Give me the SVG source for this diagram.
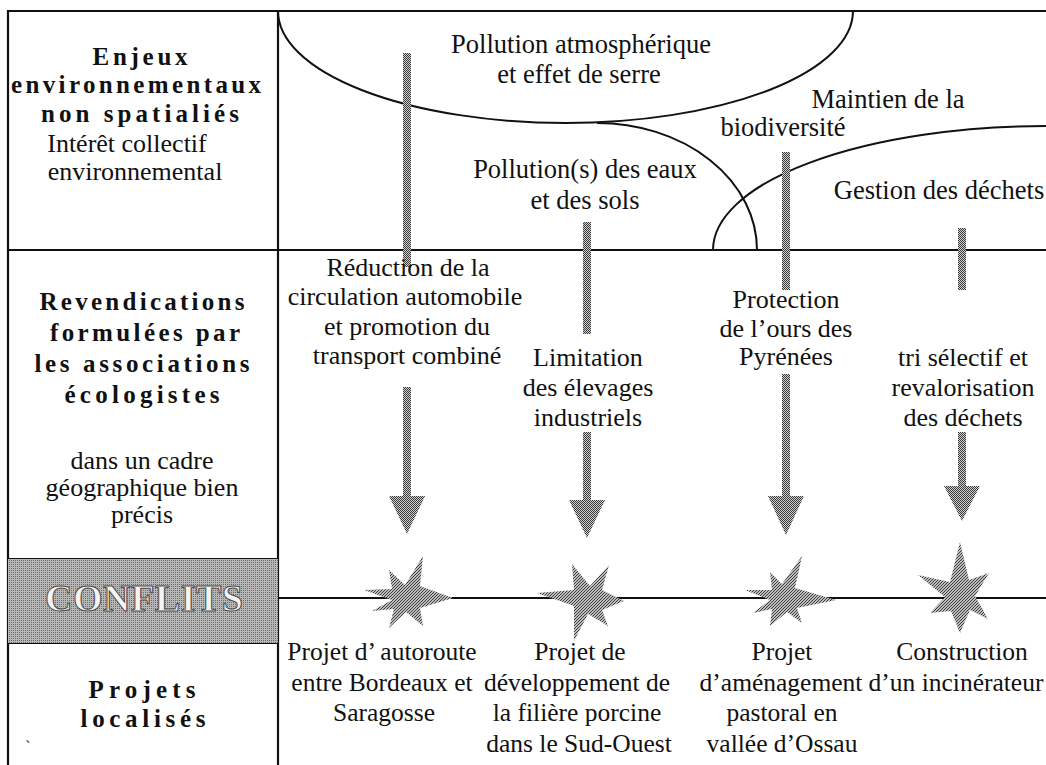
<svg xmlns="http://www.w3.org/2000/svg" width="1046" height="765" viewBox="0 0 1046 765">
<defs>
<pattern id="dith" width="2" height="2" patternUnits="userSpaceOnUse"><rect width="2" height="2" fill="#cfcfcf"/><rect width="1" height="1" fill="#3a3a3a"/><rect x="1" y="1" width="1" height="1" fill="#3a3a3a"/></pattern>
<pattern id="hatch" width="3" height="3" patternUnits="userSpaceOnUse"><rect width="3" height="3" fill="#bdbdbd"/><rect x="2" y="0" width="1" height="1" fill="#3c3c3c"/><rect x="1" y="1" width="1" height="1" fill="#3c3c3c"/><rect x="0" y="2" width="1" height="1" fill="#3c3c3c"/></pattern>
<pattern id="hatch2" width="2" height="2" patternUnits="userSpaceOnUse"><rect width="2" height="2" fill="#b8b8b8"/><rect x="1" y="0" width="1" height="1" fill="#6a6a6a"/></pattern>
</defs>
<style>
.t{font-family:"Liberation Serif","Times New Roman",serif;font-size:26px;fill:#111;text-anchor:middle}
.r1{font-size:26.5px}
.r4{font-size:25.5px}
.b{font-family:"Liberation Serif","Times New Roman",serif;font-size:25px;font-weight:bold;fill:#111;text-anchor:middle}
.ln{stroke:#111;stroke-width:2.2;fill:none}
.cv{stroke:#111;stroke-width:2;fill:none}
.bar{fill:url(#dith)}
.star{fill:url(#hatch)}
</style>
<rect width="1046" height="765" fill="#fff"/>

<g id="frame">
<line class="ln" x1="8" y1="11" x2="1046" y2="11"/>
<line class="ln" x1="8" y1="250" x2="1046" y2="250"/>
<line class="ln" x1="8" y1="10" x2="8" y2="765"/>
<line class="ln" x1="278" y1="10" x2="278" y2="765"/>
<line class="ln" x1="278" y1="598" x2="1046" y2="598"/>
<line class="ln" x1="8" y1="559" x2="278" y2="559"/>
<line class="ln" x1="8" y1="643" x2="278" y2="643"/>
</g>

<g id="left-enjeux">
<text class="b" x="140" y="65" textLength="95">Enjeux</text>
<text class="b" x="136" y="93" textLength="250">environnementaux</text>
<text class="b" x="140" y="122" textLength="198">non  spatialiés</text>
<text class="t" x="127" y="152">Intérêt collectif</text>
<text class="t" x="135" y="180">environnemental</text>
</g>

<g id="left-revendications">
<text class="b" x="142" y="310" textLength="205">Revendications</text>
<text class="b" x="145" y="341" textLength="190">formulées  par</text>
<text class="b" x="142" y="372" textLength="215">les  associations</text>
<text class="b" x="142" y="403" textLength="155">écologistes</text>
<text class="t" x="142" y="469">dans un cadre</text>
<text class="t" x="142" y="496">géographique bien</text>
<text class="t" x="142" y="523">précis</text>
</g>

<g id="left-conflits">
<rect x="8" y="559" width="270" height="84" fill="url(#hatch2)"/>
<text x="144" y="611" textLength="198" style="font-family:'Liberation Serif','Times New Roman',serif;font-size:38px;font-weight:bold;text-anchor:middle;fill:#f4f4f4;stroke:#4a4a4a;stroke-width:1">CONFLITS</text>
</g>

<g id="left-projets">
<text class="b" x="142" y="698" textLength="107">Projets</text>
<text class="b" x="143" y="727" textLength="125">localisés</text>
<text class="t" x="28" y="752" style="font-size:16px">`</text>
</g>

<g id="enjeux-zones">
<path class="cv" d="M278,11 A287.5,112 0 0 0 853,11"/>
<path class="cv" d="M597,123 A160,127 0 0 1 757,250"/>
<path class="cv" d="M713,250 A333,124 0 0 1 1046,126"/>
<text class="t r1" x="581" y="53">Pollution atmosphérique</text>
<text class="t r1" x="579" y="83">et effet de serre</text>
<text class="t r1" x="585" y="178">Pollution(s) des eaux</text>
<text class="t r1" x="585" y="209">et des sols</text>
<text class="t r1" x="888" y="108">Maintien de la</text>
<text class="t r1" x="783" y="136">biodiversité</text>
<text class="t r1" x="939" y="199">Gestion des déchets</text>
</g>

<g id="connectors">
<rect class="bar" x="403" y="53" width="8" height="214"/>
<polygon class="bar" points="403,387 411,387 411,496 425,496 407,534 389,496 403,496"/>
<rect class="bar" x="583" y="222" width="8" height="112"/>
<polygon class="bar" points="583,432 591,432 591,500 605,500 587,538 569,500 583,500"/>
<rect class="bar" x="782" y="152" width="8" height="138"/>
<polygon class="bar" points="782,374 790,374 790,496 804,496 786,535 768,496 782,496"/>
<rect class="bar" x="958" y="228" width="8" height="62"/>
<polygon class="bar" points="958,432 966,432 966,486 980,486 962,521 944,486 958,486"/>
</g>

<g id="revendications">
<text class="t" x="408" y="276">Réduction de la</text>
<text class="t" x="405" y="305">circulation automobile</text>
<text class="t" x="407" y="335">et promotion du</text>
<text class="t" x="407" y="364">transport combiné</text>
<text class="t" x="588" y="366">Limitation</text>
<text class="t" x="588" y="396">des élevages</text>
<text class="t" x="588" y="426">industriels</text>
<text class="t" x="786" y="308">Protection</text>
<text class="t" x="786" y="337">de l’ours des</text>
<text class="t" x="786" y="365">Pyrénées</text>
<text class="t" x="963" y="366">tri sélectif et</text>
<text class="t" x="963" y="396">revalorisation</text>
<text class="t" x="963" y="426">des déchets</text>
</g>

<g id="conflits-stars">
<polygon class="star" points="423,556 420,586 453,598 420,608 423,626 406,612 389,628 394,609 372,611 392,600 364,590 392,589 389,570 405,585"/>
<polygon class="star" points="572,564 590,586 609,565 602,590 624,601 602,610 608,626 588,614 574,641 574,606 537,593 574,590"/>
<polygon class="star" points="802,556 795,588 836,600 797,608 802,623 787,612 770,626 772,609 753,613 770,600 745,590 772,590 770,572 782,584"/>
<polygon class="star" points="960,542 969,580 989,573 975,596 988,619 970,610 960,633 951,611 930,613 945,597 918,575 950,582"/>
</g>

<g id="projets">
<text class="t r4" x="382" y="660">Projet d’ autoroute</text>
<text class="t r4" x="382" y="691">entre Bordeaux et</text>
<text class="t r4" x="384" y="721">Saragosse</text>
<text class="t r4" x="580" y="660">Projet de</text>
<text class="t r4" x="577" y="691">développement de</text>
<text class="t r4" x="577" y="721">la filière porcine</text>
<text class="t r4" x="579" y="752">dans le Sud-Ouest</text>
<text class="t r4" x="782" y="660">Projet</text>
<text class="t r4" x="781" y="691">d’aménagement</text>
<text class="t r4" x="782" y="721">pastoral en</text>
<text class="t r4" x="782" y="752">vallée d’Ossau</text>
<text class="t r4" x="962" y="660">Construction</text>
<text class="t r4" x="956" y="691">d’un incinérateur</text>
</g>
</svg>
